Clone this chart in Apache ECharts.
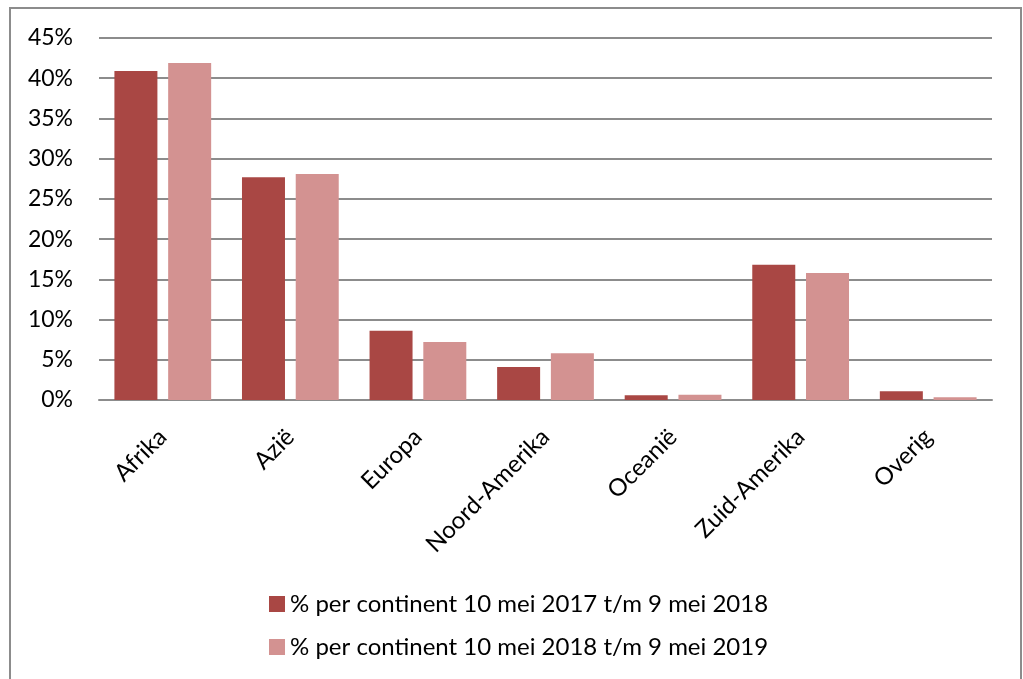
<!DOCTYPE html>
<html>
<head>
<meta charset="utf-8">
<script src="https://cdn.jsdelivr.net/npm/echarts@6/dist/echarts.min.js"></script>
<style>
  html, body { margin: 0; padding: 0; background: #fff; }
  #chart { width: 1023px; height: 679px; }
</style>
</head>
<body>
<div id="chart"></div>
<script>
  // continents + shares (%)
  const continents = ['Afrika', 'Azië', 'Europa', 'Noord-Amerika', 'Oceanië', 'Zuid-Amerika', 'Overig'];
  const share2017 = [40.9, 27.7, 8.6, 4.1, 0.6, 16.8, 1.1];
  const share2018 = [41.9, 28.1, 7.2, 5.8, 0.65, 15.8, 0.35];
  const seriesNames = [
    '% per continent 10 mei 2017 t/m 9 mei 2018',
    '% per continent 10 mei 2018 t/m 9 mei 2019'
  ];
  const yTicks = [0, 5, 10, 15, 20, 25, 30, 35, 40, 45];

  const font = 'Lato, "Open Sans", sans-serif';
  const chart = echarts.init(document.getElementById('chart'));

  chart.setOption({
    animation: false,
    textStyle: { fontFamily: font },
    grid: { left: 99, right: 31, top: 38, bottom: 279 },
    graphic: [{
      type: 'rect',
      shape: { x: 10, y: 8, width: 1011, height: 700 },
      style: { fill: 'none', stroke: '#8c8c8c', lineWidth: 2 },
      silent: true
    }],
    legend: {
      orient: 'vertical',
      left: 264,
      top: 587,
      itemGap: 19,
      itemWidth: 16,
      itemHeight: 16,
      icon: 'rect',
      textStyle: { fontSize: 24, color: '#000', fontFamily: font },
      data: seriesNames
    },
    xAxis: {
      type: 'category',
      data: continents,
      axisLine: { lineStyle: { color: '#8c8c8c', width: 2 } },
      axisTick: { show: false },
      axisLabel: {
        rotate: 45,
        interval: 0,
        margin: 33,
        fontSize: 24,
        color: '#000',
        fontFamily: font
      }
    },
    yAxis: {
      type: 'value',
      min: yTicks[0],
      max: yTicks[yTicks.length - 1],
      interval: 5,
      axisLine: { show: false },
      axisTick: { show: false },
      axisLabel: {
        margin: 26,
        fontSize: 23,
        color: '#000',
        fontFamily: font,
        formatter: v => v + '%'
      },
      splitLine: { lineStyle: { color: '#8c8c8c', width: 2 } }
    },
    series: [{
      name: seriesNames[0],
      type: 'bar',
      data: share2017,
      barWidth: 43,
      barGap: '25%',
      itemStyle: { color: '#a94744' }
    }, {
      name: seriesNames[1],
      type: 'bar',
      data: share2018,
      barWidth: 43,
      itemStyle: { color: '#d39291' }
    }]
  });
</script>
</body>
</html>
